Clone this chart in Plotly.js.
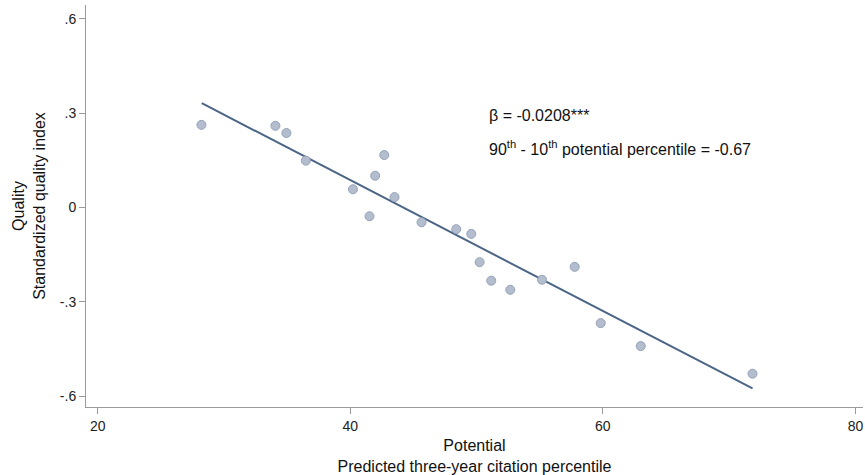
<!DOCTYPE html>
<html>
<head>
<meta charset="utf-8">
<script src="https://cdn.plot.ly/plotly-3.0.1.min.js"></script>
<style>html,body{margin:0;padding:0;background:#fff;}#chart{width:865px;height:475px;}</style>
</head>
<body>
<div id="chart"></div>
<script>
// Binned scatter: predicted citation percentile (potential) vs. standardized quality index
const potential = [28.21, 34.07, 34.94, 36.48, 40.21, 42.69, 41.97, 41.52, 43.50, 45.64,
                   48.39, 49.58, 50.24, 51.16, 52.67, 55.18, 57.77, 59.83, 63.00, 71.85];
const quality   = [0.263, 0.260, 0.237, 0.149, 0.058, 0.167, 0.101, -0.028, 0.033, -0.047,
                   -0.069, -0.084, -0.174, -0.233, -0.262, -0.230, -0.189, -0.368, -0.441, -0.529];
// Fitted line endpoints
const fitX = [28.24, 71.85];
const fitY = [0.332, -0.576];
const xTickVals = [20, 40, 60, 80];
const xTickText = ["20", "40", "60", "80"];
const yTickVals = [0.6, 0.3, 0, -0.3, -0.6];
const yTickText = [".6", ".3", "0", "-.3", "-.6"];

const axisFont = {family: "Liberation Sans Narrow, Liberation Sans, sans-serif", size: 14, color: "#222"};
const noteFont = {family: "Liberation Sans, Arial, sans-serif", size: 16, color: "#111"};

const traces = [
  {x: fitX, y: fitY, type: "scatter", mode: "lines",
   line: {color: "#4b6586", width: 2}, hoverinfo: "skip", showlegend: false},
  {x: potential, y: quality, type: "scatter", mode: "markers",
   marker: {size: 9, color: "#b3bdce", line: {color: "#95a3b9", width: 1}},
   showlegend: false}
];

const layout = {
  width: 865, height: 475,
  margin: {l: 86, r: 2, t: 5, b: 68},
  paper_bgcolor: "#fff", plot_bgcolor: "#fff",
  showlegend: false,
  xaxis: {
    range: [19.07, 80.6], tickvals: xTickVals, ticktext: xTickText,
    showgrid: false, zeroline: false, showline: true, linecolor: "#9a9a9a", linewidth: 1,
    ticks: "outside", ticklen: 6, tickcolor: "#9a9a9a",
    tickfont: axisFont,
    title: {text: "Potential<br>Predicted three-year citation percentile", font: {family: axisFont.family, size: 16, color: "#111"}, standoff: 10}
  },
  yaxis: {
    range: [-0.635, 0.6445], tickvals: yTickVals, ticktext: yTickText,
    showgrid: false, zeroline: false, showline: true, linecolor: "#9a9a9a", linewidth: 1,
    ticks: "outside", ticklen: 6, tickcolor: "#9a9a9a",
    tickfont: axisFont,
    title: {text: "Quality<br>Standardized quality index", font: {family: axisFont.family, size: 16, color: "#111"}, standoff: 10}
  },
  annotations: [
    {xref: "paper", yref: "paper", x: 0.516, y: 0.724, xanchor: "left", yanchor: "middle",
     text: "β = -0.0208***", showarrow: false, font: noteFont},
    {xref: "paper", yref: "paper", x: 0.516, y: 0.644, xanchor: "left", yanchor: "middle",
     text: "90<sup>th</sup> - 10<sup>th</sup> potential percentile = -0.67", showarrow: false, font: noteFont}
  ]
};

Plotly.newPlot("chart", traces, layout, {displayModeBar: false, staticPlot: true});
</script>
</body>
</html>
